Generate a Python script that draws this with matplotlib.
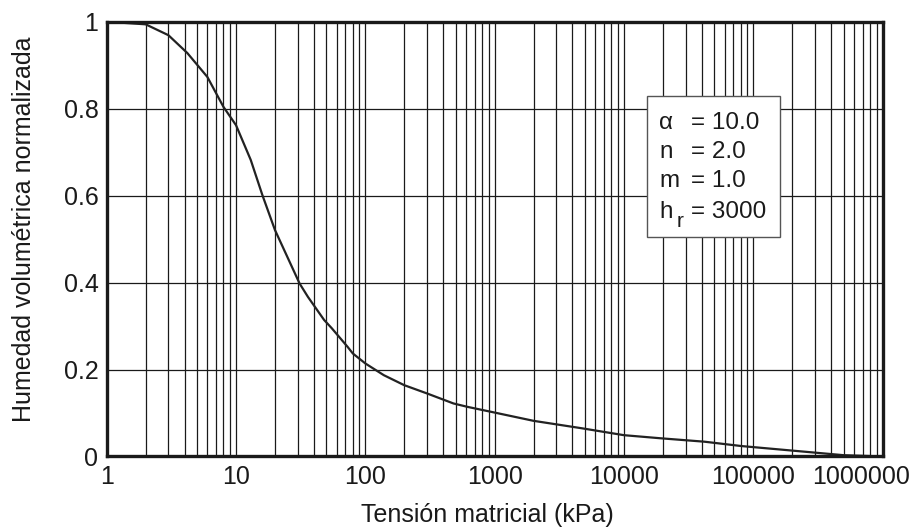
import numpy as np
import matplotlib
matplotlib.use("Agg")
import matplotlib.pyplot as plt
import matplotlib.ticker as mticker
from matplotlib.patches import Rectangle
from matplotlib.transforms import ScaledTranslation

plt.rcParams['font.family'] = ['Liberation Sans', 'DejaVu Sans']

# curve
suction = [1, 2, 3, 4.2, 6, 8, 10, 13, 16, 20, 31, 36, 48, 55, 73, 80, 100, 139,
           200, 300, 480, 620, 930, 2000, 4700, 10000, 19000, 42000, 81000,
           210000, 500000, 1000000]
theta_norm = [1.0, 0.994, 0.969, 0.928, 0.873, 0.804, 0.762, 0.682, 0.601, 0.521,
              0.398, 0.367, 0.314, 0.295, 0.252, 0.237, 0.214, 0.187, 0.164, 0.145,
              0.122, 0.114, 0.103, 0.082, 0.065, 0.049, 0.042, 0.034, 0.024, 0.013,
              0.003, 0.0]

x_ticks = [1, 10, 100, 1000, 10000, 100000, 1000000]
y_ticks = [0, 0.2, 0.4, 0.6, 0.8, 1]
y_labels = ["0", "0.2", "0.4", "0.6", "0.8", "1"]
param_names = ["α", "n", "m", "h"]
param_subs = ["", "", "", "r"]
param_values = ["= 10.0", "= 2.0", "= 1.0", "= 3000"]

ink = '#1a1a1a'

fig = plt.figure(figsize=(9.16, 5.27), dpi=100)
ax = fig.add_axes([0.1165, 0.1338, 0.847, 0.825])

ax.plot(suction, theta_norm, color='#222222', lw=1.6, zorder=3)

ax.set_xscale('log')
ax.set_xlim(1, 1000000)
ax.set_ylim(0, 1)
ax.set_xticks(x_ticks)
ax.set_xticklabels([str(v) for v in x_ticks])
ax.xaxis.set_minor_locator(mticker.LogLocator(base=10, subs=np.arange(2, 10)))
ax.xaxis.set_minor_formatter(mticker.NullFormatter())
ax.set_yticks(y_ticks)
ax.set_yticklabels(y_labels)

ax.grid(True, which='both', axis='x', color=ink, lw=0.9)
ax.grid(True, which='major', axis='y', color=ink, lw=0.9)
ax.tick_params(which='both', length=0, labelsize=18, pad=6, colors=ink)
for sp in ax.spines.values():
    sp.set_linewidth(2.4)
    sp.set_color(ink)
    sp.set_zorder(4)

# last x label pulled inside the figure
lbl = ax.get_xticklabels()[-1]
lbl.set_transform(lbl.get_transform() + ScaledTranslation(-0.215, 0, fig.dpi_scale_trans))

fig.text(0.5317, 0.01, 'Tensión matricial (kPa)', fontsize=18, color=ink,
         ha='center', va='baseline')
fig.text(0.0262, 0.5655, 'Humedad volumétrica normalizada', fontsize=18, color=ink,
         ha='center', va='center', rotation=90)

# parameter box
ax.add_patch(Rectangle((0.6966, 0.5055), 0.171, 0.3237, transform=ax.transAxes,
                       facecolor='white', edgecolor='#555555', lw=1.0, zorder=5))
baselines = [0.7532, 0.6865, 0.6198, 0.5485]
for name, sub, val, yb in zip(param_names, param_subs, param_values, baselines):
    ax.text(0.712, yb, name, transform=ax.transAxes, fontsize=17.5, color=ink,
            va='baseline', ha='left', zorder=6)
    if sub:
        ax.text(0.7343, yb - 0.02, sub, transform=ax.transAxes, fontsize=15,
                color=ink, va='baseline', ha='left', zorder=6)
    ax.text(0.753, yb, val, transform=ax.transAxes, fontsize=17.5, color=ink,
            va='baseline', ha='left', zorder=6)

fig.savefig('out.png', dpi=100)
